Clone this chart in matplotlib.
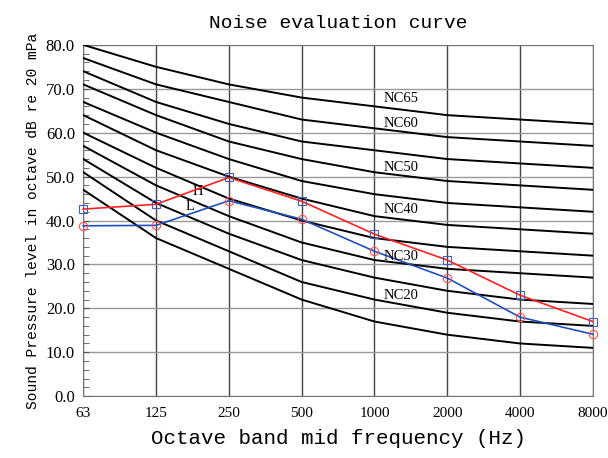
import matplotlib
matplotlib.use('Agg')
import matplotlib.pyplot as plt
import numpy as np
from matplotlib.ticker import MultipleLocator

freqs = ['63', '125', '250', '500', '1000', '2000', '4000', '8000']

# NC curves (dB) at each octave band
nc_curves = {
    'NC15': [47, 36, 29, 22, 17, 14, 12, 11],
    'NC20': [51, 40, 33, 26, 22, 19, 17, 16],
    'NC25': [54, 44, 37, 31, 27, 24, 22, 21],
    'NC30': [57, 48, 41, 35, 31, 29, 28, 27],
    'NC35': [60, 52, 45, 40, 36, 34, 33, 32],
    'NC40': [64, 56, 50, 45, 41, 39, 38, 37],
    'NC45': [67, 60, 54, 49, 46, 44, 43, 42],
    'NC50': [71, 64, 58, 54, 51, 49, 48, 47],
    'NC55': [74, 67, 62, 58, 56, 54, 53, 52],
    'NC60': [77, 71, 67, 63, 61, 59, 58, 57],
    'NC65': [80, 75, 71, 68, 66, 64, 63, 62],
}

high_levels = [42.6, 43.7, 49.8, 44.4, 36.9, 31.0, 23.0, 17.0]
low_levels = [38.8, 38.9, 44.5, 40.3, 33.0, 26.9, 18.0, 14.1]

labelled = ['NC65', 'NC60', 'NC50', 'NC40', 'NC30', 'NC20']
label_y = [67.7, 62.0, 52.0, 42.4, 31.9, 23.0]

mono = 'Liberation Mono'
serif = 'Liberation Serif'

fig = plt.figure(figsize=(6.08, 4.58), dpi=100)
ax = fig.add_axes([0.137, 0.135, 0.838, 0.767])

x = np.arange(len(freqs))

for name, vals in nc_curves.items():
    ax.plot(x, vals, color='black', lw=1.4, zorder=3, solid_joinstyle='round')

ax.plot(x, high_levels, color='#ff2020', lw=1.2, marker='s', ms=6,
        mfc='none', mec='#4060c0', mew=0.8, zorder=4, clip_on=False)
ax.plot(x, low_levels, color='#2050c0', lw=1.2, marker='o', ms=6,
        mfc='none', mec='#ff5050', mew=0.8, zorder=4, clip_on=False)

for name, yy in zip(labelled, label_y):
    ax.text(4.13, yy, name, family=serif, fontsize=10.5, va='center', ha='left', zorder=5)

ax.text(1.57, 46.7, 'H', family=serif, fontsize=10.5, ha='center', va='center')
ax.text(1.47, 43.3, 'L', family=serif, fontsize=10.5, ha='center', va='center')

ax.set_xlim(0, len(freqs) - 1)
ax.set_ylim(0, 80)
ax.set_xticks(x)
ax.set_xticklabels(freqs, family=serif, fontsize=11)
ax.set_yticks(np.arange(0, 81, 10))
ax.set_yticklabels(['%.1f' % v for v in np.arange(0, 81, 10)], family=serif, fontsize=12)
ax.yaxis.set_minor_locator(MultipleLocator(2))
ax.tick_params(axis='y', which='both', direction='in', length=4, color='#555555', pad=6)
ax.tick_params(axis='x', length=0, pad=8)

ax.grid(axis='y', color='#999999', lw=1.0, zorder=1)
ax.grid(axis='x', color='#444444', lw=1.0, zorder=1)
for s in ax.spines.values():
    s.set_color('#777777')

ax.set_title('Noise evaluation curve', family=mono, fontsize=14, pad=12)
ax.set_xlabel('Octave band mid frequency (Hz)', family=mono, fontsize=15, labelpad=6)
ax.set_ylabel('Sound Pressure level in octave dB re 20 mPa', family=mono, fontsize=10.5, labelpad=4)

fig.savefig('out.png', dpi=100)
